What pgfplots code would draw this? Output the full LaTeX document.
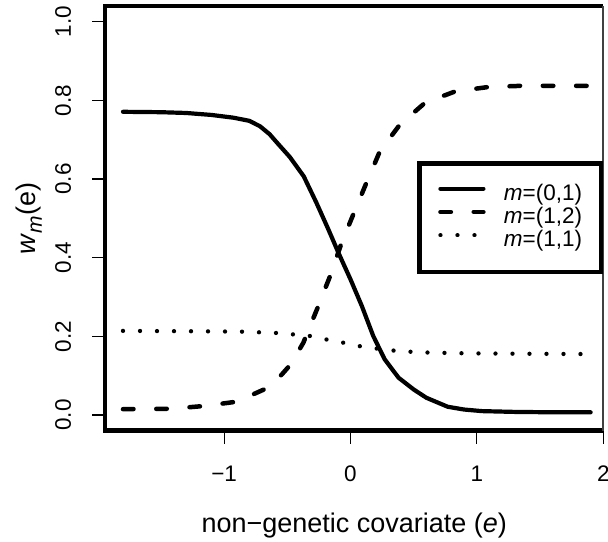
\documentclass[border=0pt]{standalone}
\usepackage{pgfplots}
\pgfplotsset{compat=1.18}
\usepackage{fontspec}
\setmainfont{Liberation Sans}
\begin{document}
\begin{tikzpicture}
\begin{axis}[
  scale only axis,
  width=498.6bp, height=425bp,
  xmin=-1.942, xmax=2.001,
  ymin=-0.04, ymax=1.04,
  clip=false,
  axis line style={draw=none},
  xtick={-1,0,1,2}, xticklabels={−1,0,1,2},
  ytick={0,0.2,0.4,0.6,0.8,1.0}, yticklabels={0.0,0.2,0.4,0.6,0.8,1.0},
  xtick pos=left, ytick pos=left,
  tick align=outside,
  major tick length=13bp,
  tick style={line width=1.2bp, black},
  minor tick num=0,
  ticklabel style={font=\fontsize{22.5bp}{27bp}\selectfont},
  xticklabel style={anchor=base, yshift=-38bp},
  yticklabel style={xshift=-29bp, rotate=90, anchor=center},
  every axis x label/.style={at={(axis description cs:0.5,-0.2394)}, anchor=base, font=\fontsize{27bp}{32bp}\selectfont},
  every axis y label/.style={at={(axis description cs:-0.1525,0.5)}, rotate=90, anchor=center, font=\fontsize{27bp}{32bp}\selectfont},
  xlabel={non−genetic covariate (\textit{e})},
  ylabel={\textit{w}\raisebox{-0.22em}{\fontsize{21bp}{21bp}\selectfont\textit{m}}(e)},
  legend style={at={(axis cs:0.546,0.5015)}, anchor=west, outer sep=0pt,
    draw=black, line width=4.5bp, fill=white,
    inner xsep=18.7bp, inner ysep=22.8bp,
    font=\fontsize{22.5bp}{27bp}\selectfont,
    row sep=6.95bp,
    nodes={inner sep=0pt, text height=14bp, text depth=2.4bp},
    /tikz/every odd column/.append style={column sep=18.3bp}},
  legend cell align=left,
  legend image code/.code={\draw[#1] (0bp,5.8bp) -- (43bp,5.8bp);},
]
\addplot[black, line width=4.2bp, line cap=round, line join=round] coordinates {
(-1.80,0.771) (-1.50,0.770) (-1.30,0.768) (-1.10,0.763) (-0.926,0.756)
(-0.80,0.748) (-0.715,0.734) (-0.64,0.714) (-0.58,0.692) (-0.48,0.656)
(-0.37,0.607) (-0.27,0.540) (-0.175,0.472) (-0.096,0.413) (0.00,0.345)
(0.09,0.277) (0.18,0.201) (0.27,0.142) (0.38,0.095) (0.50,0.065)
(0.60,0.044) (0.77,0.021) (0.90,0.014) (1.04,0.010) (1.30,0.008)
(1.60,0.007) (1.90,0.007)};
\addlegendentry{\textit{m}=(0,1)}
\addplot[black, line width=4.5bp, line cap=round, line join=round, dash pattern=on 10.5bp off 22.8bp] coordinates {
(-1.80,0.015) (-1.42,0.016) (-1.16,0.023) (-0.90,0.034) (-0.65,0.070)
(-0.544,0.103) (-0.47,0.130) (-0.373,0.184) (-0.255,0.277) (-0.162,0.353)
(-0.07,0.438) (0.022,0.510) (0.115,0.582) (0.233,0.671) (0.39,0.738)
(0.59,0.794) (0.83,0.823) (1.09,0.834) (1.35,0.837) (1.90,0.837)};
\addlegendentry{\textit{m}=(1,2)}
\addplot[black, line width=4.3bp, line cap=round, dash pattern=on 0.01bp off 17bp] coordinates {
(-1.80,0.214) (-1.20,0.213) (-0.86,0.212) (-0.60,0.209) (-0.45,0.205)
(-0.32,0.201) (-0.188,0.192) (-0.057,0.184) (0.075,0.175) (0.207,0.169)
(0.338,0.164) (0.47,0.161) (0.60,0.159) (0.90,0.157) (1.30,0.156) (1.90,0.155)};
\addlegendentry{\textit{m}=(1,1)}
\draw[line width=4.7bp, line join=miter] (rel axis cs:1,0) -- (rel axis cs:0,0) -- (rel axis cs:0,1) -- (rel axis cs:1,1);
\draw[line width=2bp, black!75] (rel axis cs:1,0) -- (rel axis cs:1,1);
\coordinate (SW) at (rel axis cs:0,0);
\coordinate (NE) at (rel axis cs:1,1);
\end{axis}
\pgfresetboundingbox
\path ([xshift=-105.1bp,yshift=-111bp]SW) rectangle ([xshift=4.6bp,yshift=6bp]NE);
\end{tikzpicture}
\end{document}
